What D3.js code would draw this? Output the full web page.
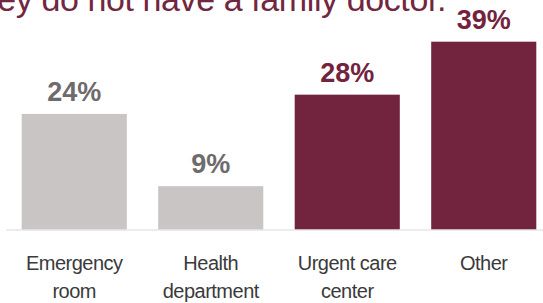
<!DOCTYPE html>
<html><head><meta charset="utf-8">
<script src="https://cdn.jsdelivr.net/npm/d3@7"></script>
<style>body{margin:0;background:#fff}svg{display:block}</style>
</head><body>
<script>
const title = "Where people go for care when they do not have a family doctor.";
const categories = [["Emergency","room"],["Health","department"],["Urgent care","center"],["Other"]];
const values = [24, 9, 28, 39];
const highlight = [false, false, true, true];

const W = 543, H = 303;
const svg = d3.select("body").append("svg").attr("width", W).attr("height", H);
const base = 229.5;
const x = d3.scaleBand().domain(d3.range(categories.length)).range([6, 552]).paddingInner(0.23).paddingOuter(0.115);
const y = d3.scaleLinear().domain([0, 39]).range([base, 41.7]);

svg.append("text").attr("x", 446).attr("y", 11).attr("text-anchor", "end")
  .attr("font-family", "Liberation Sans, Arial, sans-serif").attr("font-size", 34)
  .attr("letter-spacing", -0.4).attr("fill", "#722640").text(title);

svg.selectAll("rect.bar").data(values).enter().append("rect")
  .attr("x", (d,i) => x(i)).attr("width", x.bandwidth())
  .attr("y", d => y(d)).attr("height", d => base - y(d))
  .attr("fill", (d,i) => highlight[i] ? "#72233e" : "#c9c5c5");

svg.append("line").attr("x1", 6).attr("x2", 543).attr("y1", 230).attr("y2", 230)
  .attr("stroke", "#d9d9d9").attr("stroke-width", 1.2);

svg.selectAll("text.val").data(values).enter().append("text")
  .attr("x", (d,i) => x(i) + x.bandwidth()/2).attr("y", d => y(d) - 13)
  .attr("text-anchor", "middle").attr("font-family", "Liberation Sans, Arial, sans-serif")
  .attr("font-weight", "bold").attr("font-size", 27)
  .attr("fill", (d,i) => highlight[i] ? "#72233e" : "#6e6b6c")
  .text(d => d + "%");

const g = svg.selectAll("text.cat").data(categories).enter().append("text")
  .attr("text-anchor", "middle").attr("font-family", "Liberation Sans, Arial, sans-serif")
  .attr("font-size", 20).attr("letter-spacing", -0.5).attr("fill", "#3a3a3a");
g.selectAll("tspan").data((d,i) => d.map(t => ({t, i}))).enter().append("tspan")
  .attr("x", d => x(d.i) + x.bandwidth()/2)
  .attr("y", (d,j) => 270 + j*28)
  .text(d => d.t);
</script>
</body></html>
